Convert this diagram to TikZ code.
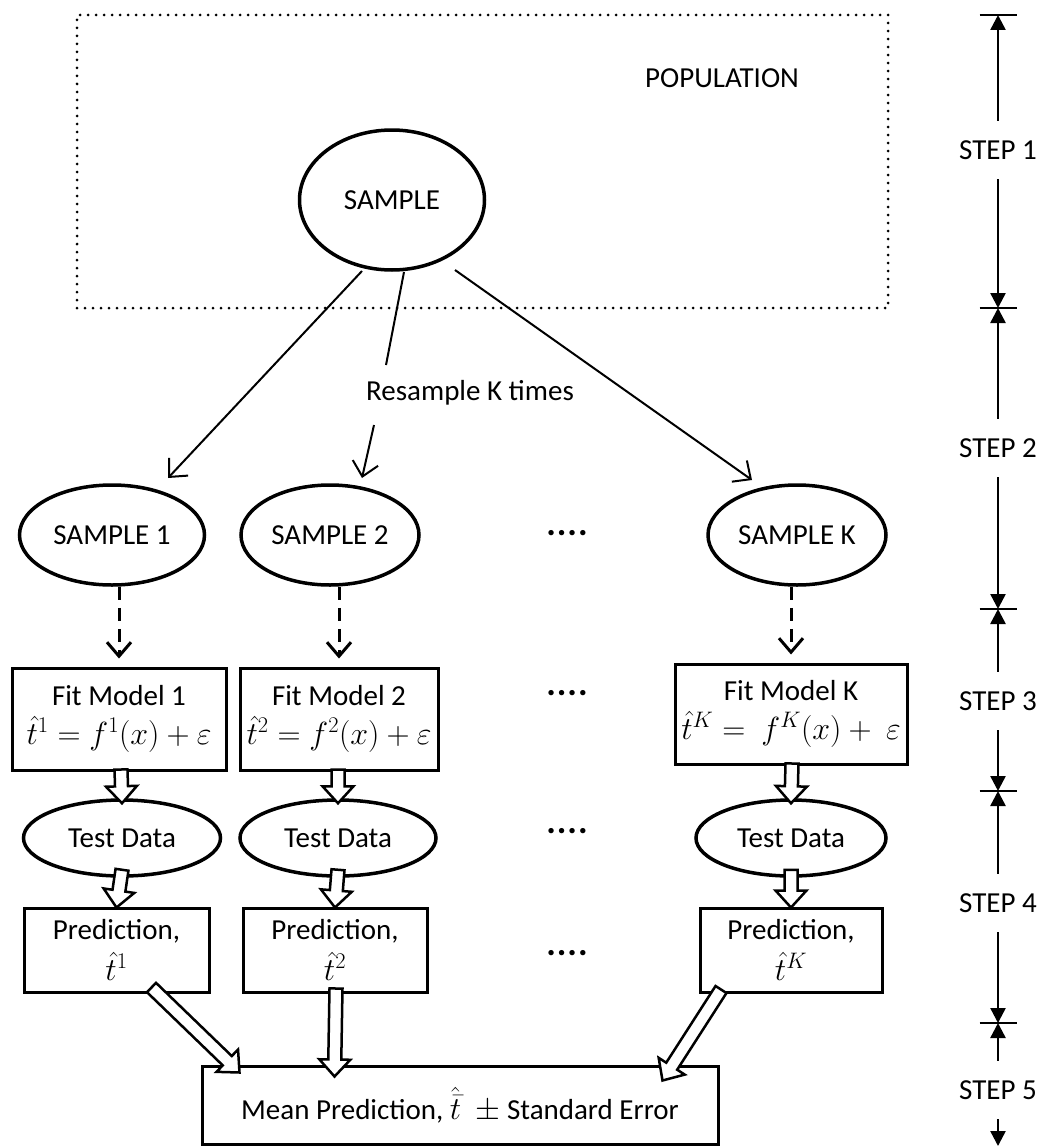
\RequirePackage{fix-cm}
\documentclass[tikz,border=0pt]{standalone}
\usepackage{fontspec}
\setmainfont{Carlito}
\usetikzlibrary{shapes.geometric,arrows.meta,calc}
\newcommand\harrow[2]{%
  \draw[hollowarrow] let \p1=(#1), \p2=(#2), \n1={atan2(\y2-\y1,\x2-\x1)} in
   ($(\p1)+(\n1+90:6.5pt)$) -- ($(\p2)+(\n1+180:17pt)+(\n1+90:6.5pt)$) --
   ($(\p2)+(\n1+180:17pt)+(\n1+90:15.5pt)$) -- (\p2) --
   ($(\p2)+(\n1+180:17pt)+(\n1-90:15.5pt)$) -- ($(\p2)+(\n1+180:17pt)+(\n1-90:6.5pt)$) --
   ($(\p1)+(\n1-90:6.5pt)$) -- cycle;}
\newcommand\mfs{\fontsize{32}{36}\selectfont}
\begin{document}
\begin{tikzpicture}[x=1pt,y=-1pt,font=\fontsize{29}{35}\selectfont,
  ell/.style={ellipse,draw,line width=3.5pt,inner sep=0pt,fill=white},
  box/.style={rectangle,draw,line width=3pt,inner sep=0pt,align=center,fill=white},
  popbox/.style={rectangle,draw,line width=3pt,dash pattern=on 0pt off 8pt,line cap=round,inner sep=0pt},
  thinline/.style={line width=2pt},
  thinarrow/.style={line width=2pt,-{Straight Barb[length=14pt,width=26pt,line width=2pt]}},
  dasharrow/.style={line width=3pt,dash pattern=on 13pt off 8pt,-{Straight Barb[length=14pt,width=24pt,line width=3pt]}},
  hollowarrow/.style={line width=2.5pt,fill=white,line join=miter},
  steplbl/.style={inner sep=0pt,minimum height=58pt},
  stepline/.style={line width=2.5pt,-{Triangle[length=15pt,width=15pt]}},
  barline/.style={line width=2.5pt},
  dotsty/.style={font=\fontsize{36}{40}\selectfont\bfseries,inner sep=0pt}]
\useasboundingbox[fill=white] (0,0) rectangle (1046,1148);

% population
\node[popbox,minimum width=811pt,minimum height=293pt] (pop) at (482.5,161.5) {};
\node (poptext) at (722,78) {POPULATION};
\node[ell,minimum width=185pt,minimum height=140pt] (sample) at (392,200) {SAMPLE};

% samples
\node[ell,minimum width=185pt,minimum height=100pt] (s1) at (112,535) {SAMPLE 1};
\node[ell,minimum width=178pt,minimum height=100pt] (s2) at (330,535) {SAMPLE 2};
\node[ell,minimum width=178pt,minimum height=100pt] (sK) at (797,535) {SAMPLE K};
\node[dotsty] (d1) at (567,533) {.\kern1pt.\kern1pt.\kern1pt.};
\node (resample) at (470,393) {Resample K times};

\draw[thinarrow] ($(sample.center)+(-30,71)$) -- ($(s1.center)+(56,-57)$);
\draw[thinline] ($(sample.center)+(12,72)$) -- ($(resample.center)+(-84,-28)$);
\draw[thinarrow] ($(resample.center)+(-96,32)$) -- ($(s2.center)+(32,-57)$);
\draw[thinarrow] ($(sample.center)+(63,70)$) -- ($(sK.center)+(-45,-55)$);

% fit models
\node[box,minimum width=214pt,minimum height=102pt] (fit1) at (119,719)
  {Fit Model 1\\[4pt] {\mfs$\hat{t}^1 = f^1(x) + \varepsilon$}};
\node[box,minimum width=198pt,minimum height=102pt] (fit2) at (339,719)
  {Fit Model 2\\[4pt] {\mfs$\hat{t}^2 = f^2(x) + \varepsilon$}};
\node[box,minimum width=232pt,minimum height=100pt] (fitK) at (791,714)
  {Fit Model K\\[4pt] {\mfs$\hat{t}^K =\ f^K(x) +\ \varepsilon$}};
\node[dotsty] (d2) at (567,693) {.\kern1pt.\kern1pt.\kern1pt.};

\draw[dasharrow,shorten >=8pt] (s1.south -| fit1.north) -- (fit1.north);
\draw[dasharrow,shorten >=8pt] (s2.south -| fit2.north) -- (fit2.north);
\draw[dasharrow,shorten >=8pt] (sK.south -| fitK.north) -- (fitK.north);

% test data
\node[ell,minimum width=197pt,minimum height=76pt] (t1) at (122,838) {Test Data};
\node[ell,minimum width=196pt,minimum height=76pt] (t2) at (338,838) {Test Data};
\node[ell,minimum width=190pt,minimum height=76pt] (tK) at (791,838) {Test Data};
\node[dotsty] (d3) at (567,831) {.\kern1pt.\kern1pt.\kern1pt.};

% predictions
\node[box,minimum width=185pt,minimum height=84pt] (p1) at (116.5,950)
  {Prediction,\\[6pt] {\mfs$\hat{t}^1$}};
\node[box,minimum width=184pt,minimum height=84pt] (p2) at (335,950)
  {Prediction,\\[6pt] {\mfs$\hat{t}^2$}};
\node[box,minimum width=182pt,minimum height=84pt] (pK) at (791,950)
  {Prediction,\\[6pt] {\mfs$\hat{t}^K$}};
\node[dotsty] (d4) at (567,953) {.\kern1pt.\kern1pt.\kern1pt.};

% mean
\node[box,minimum width=516pt,minimum height=78pt] (mean) at (460,1105)
  {Mean Prediction, {\mfs$\hat{\bar{t}}\ \ \pm$} Standard Error};

% hollow arrows
\harrow{$(fit1.south)+(2,-2)$}{$(t1.north)+(0,5)$}
\harrow{$(fit2.south)+(-1,-2)$}{$(t2.north)+(0,5)$}
\harrow{$(fitK.south)+(1,-2)$}{$(tK.north)+(0,5)$}
\harrow{$(t1.south)+(0,-8)$}{$(p1.north)+(0,1)$}
\harrow{$(t2.south)+(0,-8)$}{$(p2.north)+(0,1)$}
\harrow{$(tK.south)+(0,-8)$}{$(pK.north)+(0,1)$}
\harrow{$(p1.south)+(35,-6)$}{$(mean.north west)+(39,8)$}
\harrow{$(p2.south)+(1,-5)$}{$(mean.north west)+(134,12)$}
\harrow{$(pK.south)+(-70,-4)$}{$(mean.north west)+(462,16)$}

% step ruler
\coordinate (b0) at (998,15);
\coordinate (b1) at (998,308);
\coordinate (b2) at (998,609);
\coordinate (b3) at (998,791);
\coordinate (b4) at (998,1023);
\coordinate (b5) at (998,1146);
\foreach \b in {b0,b1,b2,b3,b4}
  \draw[barline] ([xshift=-18.5pt]\b) -- ([xshift=18.5pt]\b);
\node[steplbl] (st1) at (998,150) {STEP 1};
\node[steplbl] (st2) at (998,448) {STEP 2};
\node[steplbl] (st3) at (998,701) {STEP 3};
\node[steplbl] (st4) at (998,903) {STEP 4};
\node[steplbl] (st5) at (998,1090) {STEP 5};
\draw[stepline] (st1.north) -- (b0);
\draw[stepline] (st1.south) -- (b1);
\draw[stepline] (st2.north) -- (b1);
\draw[stepline] (st2.south) -- (b2);
\draw[stepline] (st3.north) -- (b2);
\draw[stepline] (st3.south) -- (b3);
\draw[stepline] (st4.north) -- (b3);
\draw[stepline] (st4.south) -- (b4);
\draw[stepline] (st5.north) -- (b4);
\draw[stepline] (st5.south) -- (b5);
\end{tikzpicture}
\end{document}
